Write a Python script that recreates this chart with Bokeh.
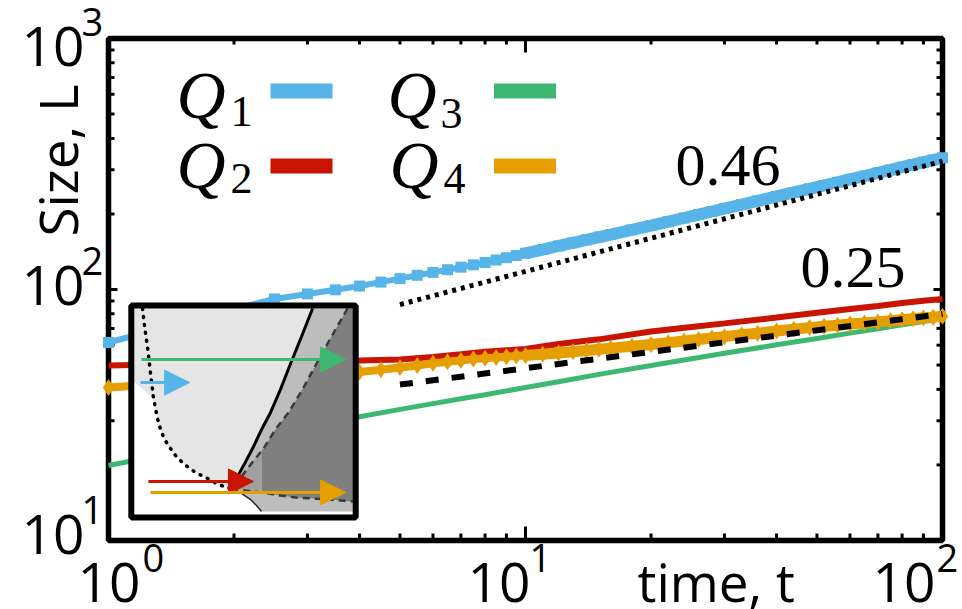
import math
from bokeh.plotting import figure
from bokeh.models import Range1d, LinearScale, LogScale, Label, Arrow, NormalHead
from bokeh.embed import file_html
from bokeh.resources import INLINE

# ---------------- data ----------------
t_q1 = [1, 1.5, 2, 2.5, 3, 3.5, 4, 4.5, 5, 5.5, 6, 6.5, 7, 7.5, 8, 8.5, 9, 9.5, 10,
        11, 12, 13, 14, 15, 16, 18, 20, 22, 24, 26, 28, 30, 33, 36, 40, 44, 48, 52,
        56, 60, 65, 70, 75, 80, 85, 90, 95, 100]
L_q1 = [61.5, 73.6, 83.5, 91.7, 96.0, 99.7, 103.2, 107.0, 110.5, 113.9, 117.0, 119.9,
        122.7, 125.4, 128.1, 131.1, 133.9, 136.6, 139.3, 144.3, 149.1, 153.5, 157.8,
        161.8, 165.6, 172.9, 179.7, 186.3, 192.7, 198.8, 204.5, 210.1, 217.9, 225.4,
        234.9, 243.7, 251.9, 259.8, 267.4, 274.8, 283.3, 291.7, 299.5, 307.1, 314.5,
        321.5, 328.1, 334.8]
t_q4 = t_q1
L_q4 = [40.7, 42.5, 43.8, 44.9, 45.7, 46.5, 46.9, 47.9, 48.9, 49.8, 50.8, 51.5, 52.1,
        52.8, 53.2, 53.6, 54.0, 54.3, 54.6, 55.2, 55.8, 56.5, 57.1, 57.8, 58.4, 59.4,
        60.4, 61.4, 62.3, 63.2, 64.1, 64.9, 66.0, 67.0, 68.3, 69.4, 70.5, 71.4, 72.1,
        72.8, 73.6, 74.3, 75.1, 75.8, 76.4, 77.1, 77.6, 78.2]
t_line = [1, 1.5, 2, 3, 4, 5, 6, 7, 8, 10, 12, 15, 20, 25, 30, 40, 50, 60, 70, 80, 90, 100]
L_q2 = [49.8, 50.5, 50.9, 51.7, 52.1, 52.6, 53.8, 55.2, 56.5, 57.9, 60.7, 63.3, 68.0,
        70.9, 73.3, 77.3, 80.8, 83.6, 86.0, 88.3, 90.2, 91.7]
L_q3 = [19.9, 22.7, 24.9, 28.4, 31.1, 33.3, 35.1, 36.7, 38.1, 40.7, 42.9, 45.9, 49.8,
        53.0, 55.7, 60.2, 63.8, 67.0, 69.8, 72.3, 74.6, 76.6]

fit_t = [5, 100]
fit_046 = [87.1, 324.4]
fit_025 = [41.8, 79.9]
fit_labels = ["0.46", "0.25"]

series_names = ["Q", "Q", "Q", "Q"]
series_subs = ["1", "2", "3", "4"]
colors = ["#56b4e9", "#c81400", "#3db871", "#e69f00"]

x_ticks = [1, 10, 100]
x_tick_exp = ["0", "1", "2"]
y_ticks = [10, 100, 1000]
y_tick_exp = ["1", "2", "3"]
x_minor = [m * 10 ** k for k in (0, 1) for m in range(2, 10)]
y_minor = [m * 10 ** k for k in (1, 2) for m in range(2, 10)]

# inset schematic (inset units 0..100)
dotted_u = [4.1, 5.0, 6.4, 7.7, 9.1, 10.9, 12.7, 15.5, 19.1, 22.7, 28.2, 33.6, 38.6, 44.1]
dotted_v = [100, 91.6, 80.8, 68.5, 55.7, 45.8, 38.9, 33.0, 27.6, 23.6, 19.2, 16.3, 13.3, 11.3]
solid_u = [81.4, 76.4, 71.4, 66.8, 62.3, 58.2, 54.1, 50.5, 47.3, 44.1]
solid_v = [100, 86.2, 72.9, 60.1, 48.8, 40.4, 31.0, 23.6, 17.2, 11.3]
edge_u = [44.1, 49.1, 53.2, 55.9, 58.2]
edge_v = [11.3, 8.9, 5.9, 3.0, 0]
dash_up_u = [97.3, 90.0, 83.2, 76.8, 70.5, 64.5, 59.1, 53.6, 49.1, 44.5]
dash_up_v = [100, 86.2, 72.9, 60.1, 48.8, 40.4, 31.0, 23.6, 17.2, 11.3]
dash_lo_u = [44.5, 50.9, 58.2, 66.8, 73.6, 81.4, 88.6, 100]
dash_lo_v = [11.3, 10.3, 9.4, 7.9, 6.9, 6.4, 5.9, 4.9]
cut_u, cut_v = 58.2, 30.0
arrow_x0 = [3.6, 3.2, 6.8, 7.7]
arrow_x1 = [96.4, 25.5, 54.5, 96.4]
arrow_y = [74.9, 63.5, 14.8, 9.4]
arrow_col = [colors[2], colors[0], colors[1], colors[3]]

# ---------------- layout (frame = whole canvas) ----------------
W, H = 962, 609
FL, FR, FT, FB = 108, 942, 38, 540          # where the axes box sits
IN_L, IN_R, IN_T, IN_B = 133, 353, 308, 511  # inset drawing area
decx = (FR - FL) / 2.0
decy = (FB - FT) / 2.0

p = figure(width=W, height=H,
           x_range=Range1d(10 ** (0 - FL / decx), 10 ** (2 + (W - FR) / decx)),
           y_range=Range1d(10 ** (1 - (H - FB) / decy), 10 ** (3 + FT / decy)),
           x_axis_location=None, y_axis_location=None,
           output_backend="svg", toolbar_location=None, min_border=0)
p.x_scale = LogScale()
p.y_scale = LogScale()
for g in p.grid:
    g.visible = False
p.outline_line_color = None
p.background_fill_color = "white"
p.border_fill_color = "white"

sx = (IN_R - IN_L) / 100.0
sy = (IN_B - IN_T) / 100.0
p.extra_x_ranges = {"px": Range1d(0, W), "in": Range1d(-IN_L / sx, (W - IN_L) / sx)}
p.extra_y_ranges = {"px": Range1d(H, 0), "in": Range1d((IN_B - H) / sy, IN_B / sy)}
p.extra_x_scales = {"px": LinearScale(), "in": LinearScale()}
p.extra_y_scales = {"px": LinearScale(), "in": LinearScale()}

# ---------------- axes box and ticks ----------------
x0, x1 = x_ticks[0], x_ticks[-1]
y0, y1 = y_ticks[0], y_ticks[-1]
p.quad(left=[x0], right=[x1], bottom=[y0], top=[y1], fill_color=None,
       line_color="black", line_width=5.5)
TK = dict(line_color="black", line_width=3, length_units="screen")
p.ray(x=x_ticks, y=[y0] * 3, length=14, angle=math.pi / 2, **TK)
p.ray(x=x_minor, y=[y0] * len(x_minor), length=7, angle=math.pi / 2, **TK)
p.ray(x=x_ticks, y=[y1] * 3, length=14, angle=-math.pi / 2, **TK)
p.ray(x=x_minor, y=[y1] * len(x_minor), length=6, angle=-math.pi / 2, **TK)
p.ray(x=[x0] * 3, y=y_ticks, length=9, angle=0, **TK)
p.ray(x=[x0] * len(y_minor), y=y_minor, length=6, angle=0, **TK)
p.ray(x=[x1] * 3, y=y_ticks, length=9, angle=math.pi, **TK)
p.ray(x=[x1] * len(y_minor), y=y_minor, length=6, angle=math.pi, **TK)

# ---------------- curves ----------------
band_q1 = [(t, v) for t, v in zip(t_q1, L_q1) if t >= 10]
band_q4 = [(t, v) for t, v in zip(t_q4, L_q4) if t >= 10]

p.line(t_q1, L_q1, line_color=colors[0], line_width=6)
p.line([a for a, b in band_q1], [b for a, b in band_q1], line_color=colors[0], line_width=12)
p.scatter(t_q1, L_q1, marker="square", size=11, fill_color=colors[0], line_color=None)

p.line(t_line, L_q2, line_color=colors[1], line_width=6)
p.line(t_line, L_q3, line_color=colors[2], line_width=5)

p.line(t_q4, L_q4, line_color=colors[3], line_width=8)
p.line([a for a, b in band_q4], [b for a, b in band_q4], line_color=colors[3], line_width=11)
p.scatter(t_q4, L_q4, marker="diamond", size=17, fill_color=colors[3], line_color=None)

p.line(fit_t, fit_046, line_color="black", line_width=5, line_dash="4 5")
p.line(fit_t, fit_025, line_color="black", line_width=6, line_dash="13 13")

# ---------------- inset ----------------
IR = dict(x_range_name="in", y_range_name="in")
p.quad(left=[-1], right=[101], bottom=[-3], top=[101.5], fill_color="white",
       line_color=None, **IR)
light_u = [0, 0] + dotted_u[4:] + solid_u[::-1][1:]
light_v = [100, 64] + dotted_v[4:] + solid_v[::-1][1:]
p.patch(light_u, light_v, fill_color="#e5e5e5", line_color=None, **IR)
med_u = solid_u + edge_u[1:] + [100, 100]
med_v = solid_v + edge_v[1:] + [0, 100]
p.patch(med_u, med_v, fill_color="#bdbdbd", line_color=None, **IR)
dark_u = dash_up_u[:7] + [cut_u, cut_u] + dash_lo_u[3:] + [100]
dark_v = dash_up_v[:7] + [cut_v, dash_lo_v[2]] + dash_lo_v[3:] + [100]
p.patch(dark_u, dark_v, fill_color="#7f7f7f", line_color=None, **IR)
mid_u = [cut_u] + dash_up_u[7:] + dash_lo_u[1:3]
mid_v = [cut_v] + dash_up_v[7:] + dash_lo_v[1:3]
p.patch(mid_u, mid_v, fill_color="#a0a0a0", line_color=None, **IR)

p.line(dotted_u, dotted_v, line_color="black", line_width=3.5, line_dash="1 7",
       line_cap="round", **IR)
p.line(solid_u, solid_v, line_color="black", line_width=3, **IR)
p.line(edge_u, edge_v, line_color="#222222", line_width=1.5, **IR)
p.line(dash_up_u, dash_up_v, line_color="#3a3a3a", line_width=2.5, line_dash="7 5", **IR)
p.line(dash_lo_u, dash_lo_v, line_color="#3a3a3a", line_width=2.5, line_dash="7 5", **IR)
p.quad(left=[-1], right=[101], bottom=[-3], top=[101.5], fill_color=None,
       line_color="black", line_width=6, **IR)

for xa, xb, yy, c in zip(arrow_x0, arrow_x1, arrow_y, arrow_col):
    p.add_layout(Arrow(end=NormalHead(size=25, fill_color=c, line_color=c, line_width=1),
                       x_start=xa, y_start=yy, x_end=xb, y_end=yy,
                       line_color=c, line_width=3, **IR))

# ---------------- legend ----------------
PX = dict(x_range_name="px", y_range_name="px")
leg_x_text = [176, 176, 387, 389]
leg_y_base = [117, 187, 117, 187]
leg_sub_x = [230, 230, 440, 443]
leg_sub_y = [126, 193, 128, 193]
leg_bar_x = [301, 301, 524.5, 524.5]
leg_bar_y = [90.5, 165.5, 90.5, 165.5]
p.rect(leg_bar_x, leg_bar_y, width=62, height=15, width_units="screen",
       height_units="screen", fill_color=colors, line_color=None, **PX)

SERIF = "Liberation Serif"
SANS = "Open Sans"
MID = {SERIF: 0.3375, SANS: 0.388}   # baseline -> middle shift, in em


def lab(text, x, baseline, size, font, align="left", style="normal", angle=0.0):
    # position given by the text's baseline; converted to a middle anchor
    shift = MID[font] * size
    if angle == 0.0:
        xx, yy = x, baseline - shift
    else:
        xx, yy = x - shift, baseline
    p.add_layout(Label(x=xx, y=yy, text=text, text_font=font,
                       text_font_size="%dpx" % size, text_font_style=style,
                       text_align=align, text_baseline="middle", text_color="black",
                       angle=angle, **PX))


for i in range(4):
    lab(series_names[i], leg_x_text[i], leg_y_base[i], 68, SERIF, style="italic")
    lab(series_subs[i], leg_sub_x[i], leg_sub_y[i], 44, SERIF)

lab(fit_labels[0], 675, 185, 60, SERIF)
lab(fit_labels[1], 800, 287, 60, SERIF)

# ---------------- tick labels & axis titles ----------------
x_base_dx = [32, 5, -7]
x_sup_dx = [2, -1, 1]
for v, e, dxb, dxs in zip(x_ticks, x_tick_exp, x_base_dx, x_sup_dx):
    px = FL + decx * math.log10(v)
    lab("10", px + dxb, 603, 55, SANS, align="right")
    lab(e, px + dxb + dxs, 572, 38, SANS)

y_base_dy = [15, 17, 29]
for v, e, dyb in zip(y_ticks, y_tick_exp, y_base_dy):
    py = FB - decy * (math.log10(v) - 1)
    lab("10", 84, py + dyb, 55, SANS, align="right")
    lab(e, 81, py + dyb - 31, 38, SANS)

lab("time, t", 637, 602, 53, SANS)
lab("Size, L", 78, 160, 53, SANS, align="center", angle=math.pi / 2)

open("out.html", "w").write(file_html(p, INLINE))
